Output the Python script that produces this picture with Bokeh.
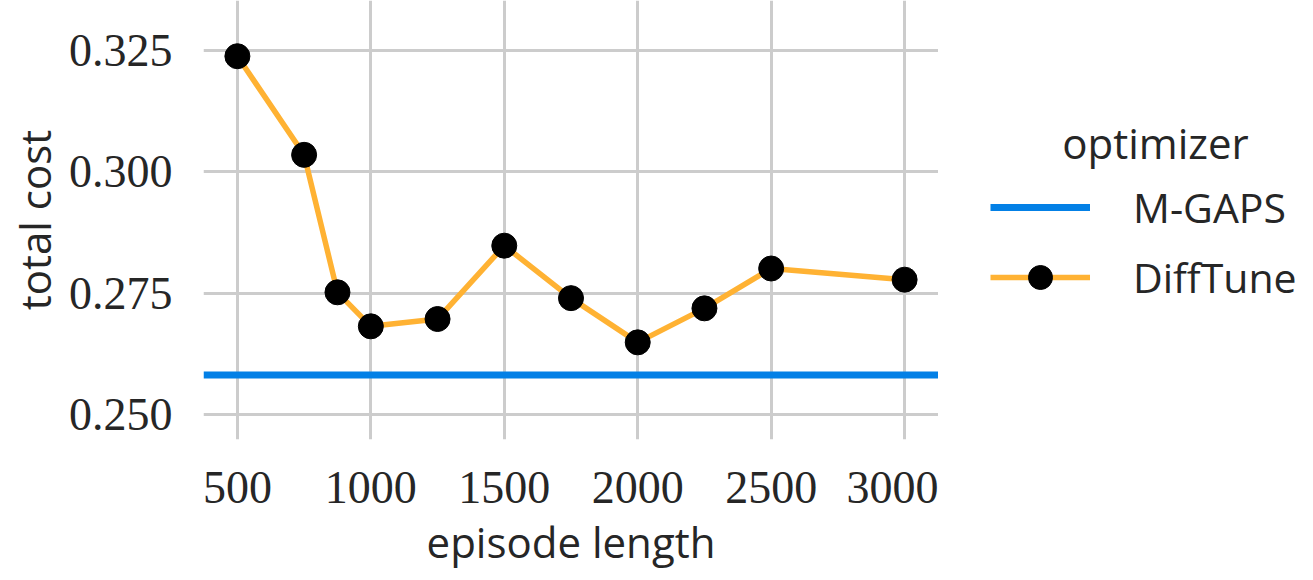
from bokeh.plotting import figure
from bokeh.layouts import row
from bokeh.models import Range1d, FixedTicker, Legend, LegendItem, Label
from bokeh.embed import file_html
from bokeh.resources import INLINE

episode_length = [500, 750, 875, 1000, 1250, 1500, 1750, 2000, 2250, 2500, 3000]
difftune_cost = [0.3238, 0.3035, 0.2752, 0.2682, 0.2697, 0.2848, 0.2740, 0.2649, 0.2719, 0.2801, 0.2778]
mgaps_cost = 0.2582
x_ticks = [500, 1000, 1500, 2000, 2500, 3000]
y_ticks = [0.250, 0.275, 0.300, 0.325]
y_tick_labels = {0.25: "0.250", 0.275: "0.275", 0.3: "0.300", 0.325: "0.325"}
series_names = ["M-GAPS", "DiffTune"]
legend_title = "optimizer"

BLUE = "#0380E6"
ORANGE = "#FFB233"
TXT = "#262626"
SERIF = "Liberation Serif"
SANS = "Open Sans"
H = 572
BOTTOM = 132

X0, X1 = 373, 3127
p = figure(width=938, height=H, output_backend="svg", toolbar_location=None,
           x_range=Range1d(X0, X1), y_range=Range1d(0.2449, 0.33527),
           min_border_left=203, min_border_right=0, min_border_top=0, min_border_bottom=BOTTOM)
p.outline_line_color = None
p.background_fill_color = "white"

for ax in (p.xaxis[0], p.yaxis[0]):
    ax.axis_line_color = None
    ax.major_tick_line_color = None
    ax.minor_tick_line_color = None
    ax.major_tick_out = 0
    ax.major_tick_in = 0
    ax.major_label_text_font = SERIF
    ax.major_label_text_font_size = "46px"
    ax.major_label_text_color = TXT
    ax.axis_label_text_font = SANS
    ax.axis_label_text_font_size = "42px"
    ax.axis_label_text_font_style = "normal"
    ax.axis_label_text_color = TXT

p.xaxis.ticker = FixedTicker(ticks=x_ticks)
p.yaxis.ticker = FixedTicker(ticks=y_ticks)
p.yaxis.major_label_overrides = y_tick_labels
p.xaxis.axis_label = "episode length"
p.yaxis.axis_label = "total cost"
p.xaxis.major_label_standoff = 32
p.yaxis.major_label_standoff = 31
p.xaxis.axis_label_standoff = 7
p.yaxis.axis_label_standoff = 3

p.xgrid.ticker = FixedTicker(ticks=x_ticks)
p.ygrid.ticker = FixedTicker(ticks=y_ticks)
for g in (p.xgrid[0], p.ygrid[0]):
    g.grid_line_color = "#CCCCCC"
    g.grid_line_width = 3

p.line(x=[X0, X1], y=[mgaps_cost, mgaps_cost], line_color=BLUE, line_width=7)
p.line(x=episode_length, y=difftune_cost, line_color=ORANGE, line_width=5.5)
p.scatter(x=episode_length, y=difftune_cost, size=25, fill_color="black", line_color="black")

# legend panel (key glyphs drawn from single off-view points)
q = figure(width=367, height=H, output_backend="svg", toolbar_location=None,
           x_range=Range1d(0, 1), y_range=Range1d(0, 1),
           x_axis_location=None, y_axis_location=None,
           min_border_left=0, min_border_right=0, min_border_top=0, min_border_bottom=BOTTOM)
q.outline_line_color = None
q.xgrid.visible = False
q.ygrid.visible = False
key_x, key_y = [-10, -9], [-10, -10]
lg_mg = q.line(x=key_x, y=key_y, line_color=BLUE, line_width=7)
lg_dl = q.line(x=key_x, y=key_y, line_color=ORANGE, line_width=5.5)
lg_dm = q.scatter(x=key_x, y=key_y, size=25, fill_color="black", line_color="black")

legend = Legend(items=[LegendItem(label=series_names[0], renderers=[lg_mg]),
                       LegendItem(label=series_names[1], renderers=[lg_dl, lg_dm])],
                location=(52, 132),
                border_line_color=None, background_fill_alpha=0,
                glyph_width=100, glyph_height=60, label_standoff=43,
                spacing=10, padding=0, margin=0,
                label_text_font=SANS, label_text_font_size="41px", label_text_color=TXT,
                label_text_baseline="middle")
q.add_layout(legend, "center")

title = Label(x=217, y=297, x_units="screen", y_units="screen", text=legend_title,
              text_font=SANS, text_font_size="42px", text_color=TXT,
              text_align="center", text_baseline="middle")
q.add_layout(title)

layout = row(p, q, spacing=0)
open("out.html", "w").write(file_html(layout, INLINE))
